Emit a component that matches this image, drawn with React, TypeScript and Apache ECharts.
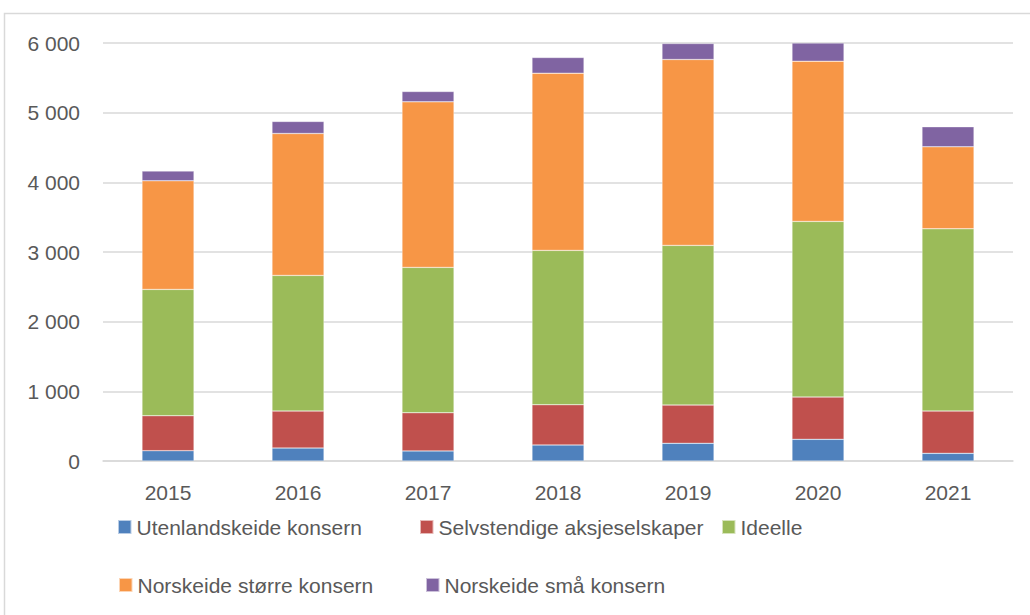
import React, { useEffect, useRef } from "react";
import * as echarts from "echarts";

const categories = ["2015", "2016", "2017", "2018", "2019", "2020", "2021"];
const seriesNames = [
  "Utenlandskeide konsern",
  "Selvstendige aksjeselskaper",
  "Ideelle",
  "Norskeide større konsern",
  "Norskeide små konsern",
];
const utenlandskeide = [148, 186, 145, 230, 254, 311, 110];
const selvstendige = [502, 531, 548, 578, 549, 607, 607];
const ideelle = [1813, 1947, 2086, 2215, 2292, 2521, 2616];
const norskeideStorre = [1559, 2037, 2376, 2544, 2668, 2300, 1177];
const norskeideSma = [139, 173, 149, 225, 230, 260, 287];
const colors = ["#4F81BD", "#C0504D", "#9BBB59", "#F79646", "#8064A2"];
const yTicks = { min: 0, max: 6000, interval: 1000 };

const legendLayout = [
  { left: 117, top: 516.5 },
  { left: 419, top: 516.5 },
  { left: 721, top: 516.5 },
  { left: 118, top: 574.5 },
  { left: 425, top: 574.5 },
];

const FONT = "'Liberation Sans', Arial, sans-serif";

export default function App() {
  const ref = useRef<HTMLDivElement>(null);
  useEffect(() => {
    if (!ref.current) return;
    const chart = echarts.init(ref.current, null, { renderer: "svg" });
    const values = [utenlandskeide, selvstendige, ideelle, norskeideStorre, norskeideSma];
    const fmt = (v: number) => String(v).replace(/\B(?=(\d{3})+(?!\d))/g, " ");
    chart.setOption({
      animation: false,
      backgroundColor: "#ffffff",
      color: colors,
      graphic: [
        {
          type: "rect",
          shape: { x: 4.5, y: 13.5, width: 1040, height: 640 },
          style: { fill: "none", stroke: "#D9D9D9", lineWidth: 1.5 },
          silent: true,
          z: -10,
        },
      ],
      legend: seriesNames.map((n, i) => ({
        data: [n],
        left: legendLayout[i].left,
        top: legendLayout[i].top,
        itemWidth: 13.5,
        itemHeight: 14,
        icon: "rect",
        padding: 0,
        selectedMode: false,
        textStyle: {
          fontFamily: FONT,
          fontSize: 21,
          lineHeight: 21,
          color: "#595959",
        },
      })),
      grid: { left: 103, right: 17, top: 43, bottom: 154 },
      xAxis: {
        type: "category",
        data: categories,
        axisLine: { show: true, lineStyle: { color: "#D9D9D9", width: 1.5 } },
        axisTick: { show: false },
        axisLabel: {
          margin: 21,
          fontFamily: FONT,
          fontSize: 21,
          color: "#595959",
        },
      },
      yAxis: {
        type: "value",
        min: yTicks.min,
        max: yTicks.max,
        interval: yTicks.interval,
        axisLine: { show: false },
        axisTick: { show: false },
        splitLine: { lineStyle: { color: "#D9D9D9", width: 1.5 } },
        axisLabel: {
          margin: 23,
          formatter: fmt,
          fontFamily: FONT,
          fontSize: 21,
          color: "#595959",
        },
      },
      series: seriesNames.map((n, i) => ({
        name: n,
        type: "bar",
        stack: "total",
        barWidth: "40%",
        data: values[i],
        itemStyle: { color: colors[i], borderColor: "rgba(255,255,255,0.6)", borderWidth: 0.5 },
      })),
    });
    return () => chart.dispose();
  }, []);
  return (
    <div
      ref={ref}
      style={{ position: "absolute", left: 0, top: 0, width: 1030, height: 615 }}
    />
  );
}
